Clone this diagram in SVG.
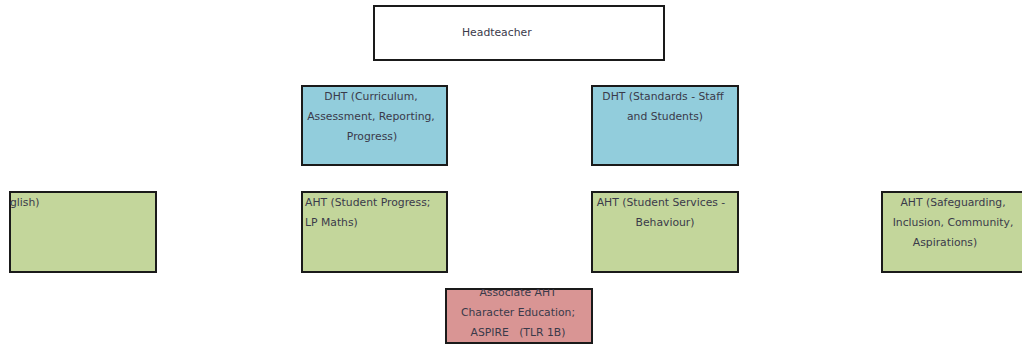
<svg xmlns="http://www.w3.org/2000/svg" width="1022" height="345" viewBox="0 0 1022 345">
<defs>
<style>
.box{stroke:#1a1a1a;stroke-width:2}
.white{fill:#ffffff}
.blue{fill:#92cddc}
.green{fill:#c3d69b}
.red{fill:#d99594}
.t{font-family:"DejaVu Sans","Liberation Sans",Arial,sans-serif;font-size:10.8px;fill:#3a3a4a}
.c{text-anchor:middle}
</style>
<clipPath id="clipAssoc"><rect x="446" y="289" width="146" height="54"/></clipPath>
</defs>
<rect width="1022" height="345" fill="#ffffff"/>
<g id="connectors"></g>
<g id="headteacher">
<rect class="box white" x="374" y="6" width="290" height="54"/>
<text class="t" x="462" y="36">Headteacher</text>
</g>
<g id="dht-curriculum">
<rect class="box blue" x="302" y="86" width="145" height="79"/>
<text class="t c" x="371" y="100">DHT (Curriculum,</text>
<text class="t c" x="371" y="120">Assessment, Reporting,</text>
<text class="t c" x="372" y="140">Progress)</text>
</g>
<g id="dht-standards">
<rect class="box blue" x="592" y="86" width="146" height="79"/>
<text class="t c" x="663" y="100">DHT (Standards - Staff</text>
<text class="t c" x="665" y="120">and Students)</text>
</g>
<g id="aht-english">
<rect class="box green" x="10" y="192" width="146" height="80"/>
<text class="t" x="10" y="206">glish)</text>
</g>
<g id="aht-progress">
<rect class="box green" x="302" y="192" width="145" height="80"/>
<text class="t" x="305" y="206">AHT (Student Progress;</text>
<text class="t" x="305" y="226">LP Maths)</text>
</g>
<g id="aht-services">
<rect class="box green" x="592" y="192" width="146" height="80"/>
<text class="t c" x="661" y="206">AHT (Student Services -</text>
<text class="t c" x="665" y="226">Behaviour)</text>
</g>
<g id="aht-safeguarding">
<rect class="box green" x="882" y="192" width="146" height="80"/>
<text class="t c" x="953" y="206">AHT (Safeguarding,</text>
<text class="t c" x="953" y="226">Inclusion, Community,</text>
<text class="t c" x="945" y="246">Aspirations)</text>
</g>
<g id="associate-aht">
<rect class="box red" x="446" y="289" width="146" height="54"/>
<g clip-path="url(#clipAssoc)">
<text class="t c" x="518" y="296">Associate AHT</text>
</g>
<text class="t c" x="518" y="316">Character Education;</text>
<text class="t c" x="518" y="336" xml:space="preserve">ASPIRE   (TLR 1B)</text>
</g>
</svg>
